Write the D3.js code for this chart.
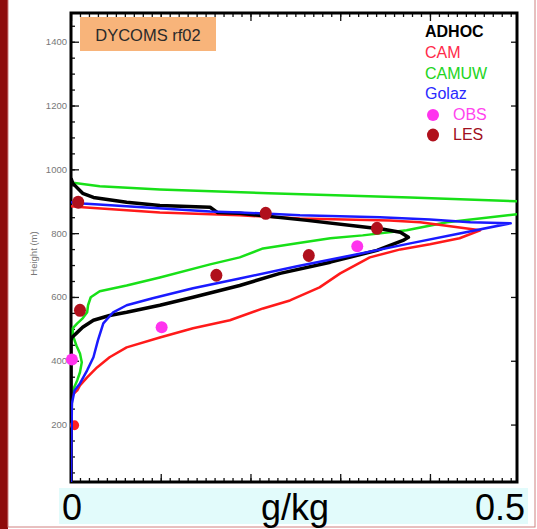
<!DOCTYPE html>
<html>
<head>
<meta charset="utf-8">
<script src="https://cdn.jsdelivr.net/npm/d3@7"></script>
<style>
  body { margin: 0; background: #fff; }
  svg { display: block; font-family: "Liberation Sans", Arial, sans-serif; }
</style>
</head>
<body>
<svg width="537" height="529"></svg>
<script>
// liquid water profiles, [q (g/kg), height (m)]
const adhoc = [[0,20],[0,464],[0.001,473],[0.007,489],[0.013,505],[0.025,527],[0.043,542],[0.062,552],
  [0.099,574],[0.136,599],[0.188,636],[0.233,674],[0.289,709],[0.341,746],[0.370,777],[0.376,787],
  [0.367,803],[0.348,812],[0.322,821],[0.263,840],[0.188,862],[0.163,865],[0.155,881],[0.099,887],
  [0.062,897],[0.025,912],[0.013,925],[0.002,956],[0,972]];
const cam = [[0,20],[0.001,292],[0.007,307],[0.010,323],[0.018,348],[0.029,379],[0.043,411],[0.062,442],
  [0.099,473],[0.136,502],[0.177,527],[0.214,564],[0.244,589],[0.277,630],[0.300,674],[0.333,724],
  [0.367,749],[0.400,765],[0.433,784],[0.456,809],[0.389,834],[0.355,840],[0.255,846],[0.188,856],
  [0.099,865],[0.013,881],[0,884]];
const camuw = [[0,20],[0.001,292],[0.002,307],[0.007,339],[0.010,364],[0.012,395],[0.010,423],[0.006,448],
  [0.002,480],[0.002,502],[0.007,517],[0.013,533],[0.018,552],[0.019,574],[0.022,599],[0.032,618],
  [0.062,636],[0.099,661],[0.155,702],[0.188,724],[0.214,752],[0.252,768],[0.289,784],[0.325,793],
  [0.374,809],[0.419,834],[0.497,859],[0.62,879],[0.497,900],[0.378,912],[0.220,925],[0.099,937],
  [0.032,947],[0,959]];
const golaz = [[0,20],[0.001,266],[0.004,307],[0.010,329],[0.018,370],[0.025,411],[0.030,464],[0.036,517],
  [0.047,552],[0.062,574],[0.091,596],[0.136,627],[0.188,658],[0.252,696],[0.319,734],[0.378,768],
  [0.433,799],[0.490,831],[0.445,834],[0.400,843],[0.344,850],[0.255,856],[0.188,865],[0.155,868],
  [0.013,893],[0,897]];
const obs = [[0.319,759],[0.101,505],[0.001,404]];
const les = [[0.008,897],[0.217,862],[0.341,815],[0.265,730],[0.162,668],[0.010,558]];
const lesLow = [[0.004,198]];  // mostly hidden behind the curves

const yMajor = [200,400,600,800,1000,1200,1400];
const yMinor = d3.range(50,1500,50);
const xMajor = [0,0.1,0.2,0.3,0.4];
const xMinor = d3.range(0.01,0.5,0.01);

const series = [
  {name:"CAMUW", data:camuw, color:"#18e018", w:2.5},
  {name:"CAM", data:cam, color:"#ff1a1a", w:2.5},
  {name:"ADHOC", data:adhoc, color:"#000", w:3.5},
  {name:"Golaz", data:golaz, color:"#1a1aff", w:2.5}
];

const svg = d3.select("svg");
const L = 71, R = 517, T = 13, B = 482;

// page border
svg.append("rect").attr("x",0).attr("y",0).attr("width",8).attr("height",529).attr("fill","#8e0b0b");
svg.append("rect").attr("x",8).attr("y",-2).attr("width",527).attr("height",529)
  .attr("fill","none").attr("stroke","#d08080").attr("stroke-width",1);

const x = d3.scaleLinear().domain([0,0.497]).range([L,R]);
const y = d3.scaleLinear().domain([20,1490]).range([B,T]);

// ticks (inward)
svg.append("g").attr("transform",`translate(${L},0)`)
  .call(d3.axisLeft(y).tickValues(yMinor).tickSize(-4).tickFormat(""));
svg.append("g").attr("transform",`translate(${L},0)`)
  .call(d3.axisLeft(y).tickValues(yMajor).tickSize(-8).tickPadding(4).tickFormat(d3.format("d")))
  .selectAll("text").attr("font-size","9.5px").attr("fill","#777").attr("font-family","Liberation Sans");
svg.append("g").attr("transform",`translate(${R},0)`)
  .call(d3.axisRight(y).tickValues(yMajor).tickSize(-6).tickFormat(""));
svg.append("g").attr("transform",`translate(0,${B})`)
  .call(d3.axisBottom(x).tickValues(xMinor).tickSize(-4).tickFormat(""));
svg.append("g").attr("transform",`translate(0,${B})`)
  .call(d3.axisBottom(x).tickValues(xMajor).tickSize(-8).tickFormat(""));
svg.append("g").attr("transform",`translate(0,${T})`)
  .call(d3.axisTop(x).tickValues(xMinor).tickSize(-4).tickFormat(""));
svg.append("g").attr("transform",`translate(0,${T})`)
  .call(d3.axisTop(x).tickValues(xMajor).tickSize(-8).tickFormat(""));
svg.selectAll(".domain").remove();
svg.selectAll(".tick line").attr("stroke","#111").attr("stroke-width",1.3);

svg.append("rect").attr("x",L).attr("y",T).attr("width",R-L).attr("height",B-T)
  .attr("fill","none").attr("stroke","#000").attr("stroke-width",3);

svg.append("text").attr("transform",`translate(37,${(T+B)/2+6}) rotate(-90)`)
  .attr("text-anchor","middle").attr("font-size","9.5px").attr("fill","#777").text("Height (m)");

svg.selectAll(".lesLow").data(lesLow).enter().append("ellipse")
  .attr("cx",d => x(d[0])).attr("cy",d => y(d[1])).attr("rx",4.5).attr("ry",5).attr("fill","#ff2020");

// curves
svg.append("clipPath").attr("id","plot").append("rect")
  .attr("x",L).attr("y",T).attr("width",R-L).attr("height",B-T);
const line = d3.line().x(d => x(d[0])).y(d => y(d[1]));
const gLines = svg.append("g").attr("clip-path","url(#plot)");
series.forEach(s => {
  gLines.append("path").datum(s.data).attr("d", line)
    .attr("fill","none").attr("stroke",s.color).attr("stroke-width",s.w)
    .attr("stroke-linejoin","round");
});

svg.selectAll(".obs").data(obs).enter().append("circle")
  .attr("cx",d => x(d[0])).attr("cy",d => y(d[1])).attr("r",6).attr("fill","#ff33ee");
svg.selectAll(".les").data(les).enter().append("ellipse")
  .attr("cx",d => x(d[0])).attr("cy",d => y(d[1])).attr("rx",6).attr("ry",6.5).attr("fill","#b0101c");

// title box
svg.append("rect").attr("x",80).attr("y",17).attr("width",136).attr("height",34).attr("fill","#f8b47a");
svg.append("text").attr("x",148).attr("y",41).attr("text-anchor","middle")
  .attr("font-size","16.5px").attr("fill","#2a2a2a").text("DYCOMS rf02");

// legend
const legendText = [
  {t:"ADHOC", c:"#000", y:37, bold:true},
  {t:"CAM", c:"#ff2a4a", y:58},
  {t:"CAMUW", c:"#22d422", y:79},
  {t:"Golaz", c:"#2a2aff", y:99}
];
legendText.forEach(d => {
  svg.append("text").attr("x",425).attr("y",d.y).attr("font-size","16px")
    .attr("font-weight",d.bold ? "bold" : "normal").attr("fill",d.c).text(d.t);
});
svg.append("circle").attr("cx",433).attr("cy",115).attr("r",6).attr("fill","#ff33ee");
svg.append("text").attr("x",453).attr("y",120).attr("font-size","16px").attr("fill","#ff44ee").text("OBS");
svg.append("ellipse").attr("cx",433).attr("cy",135).attr("rx",6).attr("ry",6.5).attr("fill","#b0101c");
svg.append("text").attr("x",453).attr("y",140).attr("font-size","16px").attr("fill","#a01020").text("LES");

// x label strip
svg.append("rect").attr("x",59).attr("y",488).attr("width",469).attr("height",36).attr("fill","#e2fbfb");
svg.append("text").attr("x",72).attr("y",520).attr("text-anchor","middle").attr("font-size","36px").text("0");
svg.append("text").attr("x",295).attr("y",520).attr("text-anchor","middle").attr("font-size","36px").text("g/kg");
svg.append("text").attr("x",525).attr("y",520).attr("text-anchor","end").attr("font-size","36px").text("0.5");
</script>
</body>
</html>
